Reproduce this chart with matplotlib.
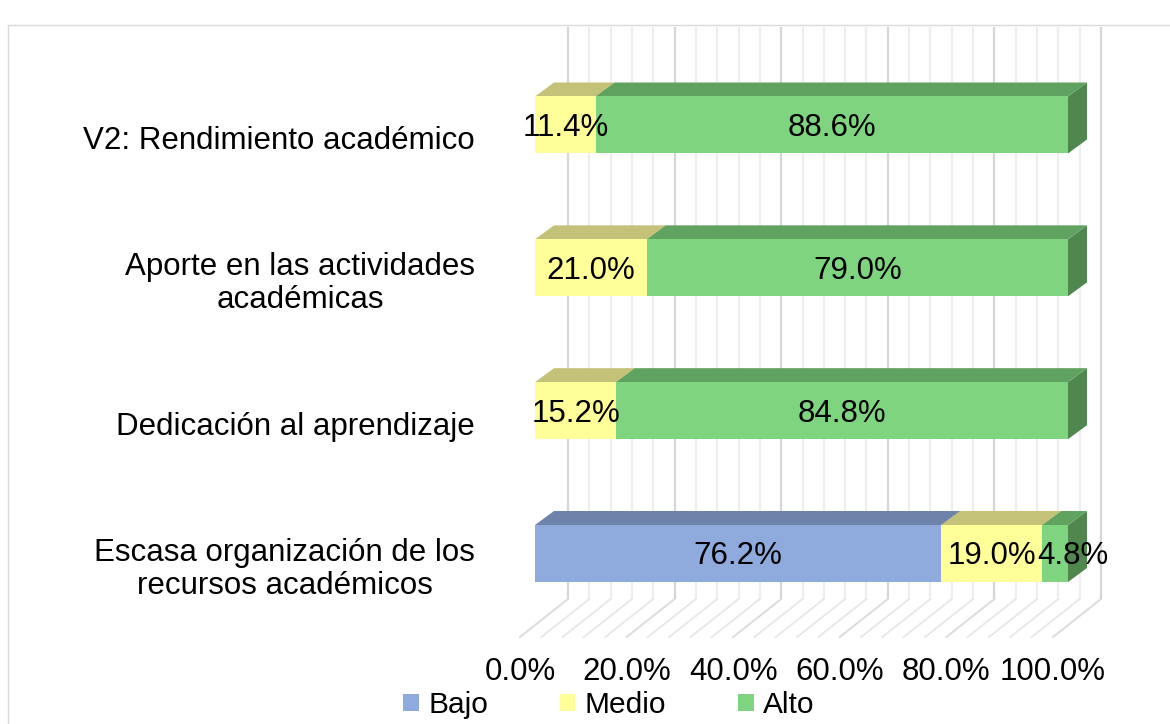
import matplotlib
matplotlib.use("Agg")
import matplotlib.pyplot as plt
from matplotlib.patches import Polygon, Rectangle, Patch

plt.rcParams['font.family'] = ['Liberation Sans', 'DejaVu Sans']

# data (bottom row first)
categories = ["Escasa organización de los\nrecursos académicos",
              "Dedicación al aprendizaje",
              "Aporte en las actividades\nacadémicas",
              "V2: Rendimiento académico"]
bajo = [76.2, 0.0, 0.0, 0.0]
medio = [19.0, 15.2, 21.0, 11.4]
alto = [4.8, 84.8, 79.0, 88.6]
series_names = ["Bajo", "Medio", "Alto"]
xticks = [0, 20, 40, 60, 80, 100]

# colours: front, top, side
front = ["#8FAADC", "#FFFF99", "#7FD47F"]
top = ["#6E83AA", "#C3C278", "#60A360"]
side = ["#5C6E90", "#A6A564", "#4F874F"]

W, H = 1170, 724
fig = plt.figure(figsize=(W / 100, H / 100), dpi=100)

# axes placed so that the bar front plane matches the picture
x0_px, x1_px = 535, 1068
yc_top, yc_bot = 125, 553.5
step = (yc_bot - yc_top) / 3
ax = fig.add_axes([x0_px / W, 1 - (yc_bot + step / 2) / H,
                   (x1_px - x0_px) / W, 4 * step / H])
ax.set_xlim(0, 100)
ax.set_ylim(-0.5, 3.5)
ax.axis("off")

pxx = (x1_px - x0_px) / 100.0   # pixels per percent
pxy = step                      # pixels per category


def dx(p):
    return p / pxx


def dy(p):
    return p / pxy


bar_h = dy(57)
bdx, bdy = dx(19), dy(14)          # depth of a bar
wdx = dx(33)                        # back wall offset
wall_bottom = -0.5 + (yc_bot + step / 2 - 599) / pxy
wall_top = -0.5 + (yc_bot + step / 2 - 27) / pxy
floor_front = -0.5 + (yc_bot + step / 2 - 637) / pxy
fdx = dx(-15)
tdy = dy(3)   # small nudge down for text

# back wall and floor grid
for v in range(0, 101, 4):
    major = v % 20 == 0
    c = "#D6D6D6" if major else "#EEEEEE"
    ax.plot([v + wdx, v + wdx], [wall_bottom, wall_top], color=c, lw=1.6,
            zorder=1, clip_on=False, solid_capstyle="butt")
    ax.plot([v + wdx, v + fdx], [wall_bottom, floor_front],
            color="#DCDCDC" if major else "#E8E8E8", lw=1.4,
            zorder=1, clip_on=False)

ypos = list(range(len(categories)))
lefts = [0.0] * len(categories)
for k, vals in enumerate([bajo, medio, alto]):
    bars = ax.barh(ypos, vals, left=lefts, height=bar_h, color=front[k],
                   zorder=3, label=series_names[k])
    for r, v in zip(bars.patches, vals):
        if v <= 0:
            continue
        x, y, w, h = r.get_x(), r.get_y(), r.get_width(), r.get_height()
        yt = y + h
        ax.add_patch(Polygon([(x, yt), (x + w, yt), (x + w + bdx, yt + bdy),
                              (x + bdx, yt + bdy)], closed=True,
                             facecolor=top[k], edgecolor="none", zorder=2.5,
                             clip_on=False))
        ax.add_patch(Polygon([(x + w, y), (x + w, yt), (x + w + bdx, yt + bdy),
                              (x + w + bdx, y + bdy)], closed=True,
                             facecolor=side[k], edgecolor="none", zorder=2,
                             clip_on=False))
        # narrow segments get their label pushed to the right, like Excel did
        shift = dx(18) if w < 8 else 0
        ax.text(x + w / 2 + shift, y + h / 2 - tdy, f"{v:.1f}%", ha="center",
                va="center", fontsize=22.5, color="black", zorder=5,
                clip_on=False)
    lefts = [a + b for a, b in zip(lefts, vals)]

# category labels
for i, name in enumerate(categories):
    ax.text(dx(-60), i - dy(16), name, ha="right", va="center",
            multialignment="center", fontsize=22.5, color="black",
            linespacing=1.12)

# value axis labels along the floor front edge
ylab = -0.5 + (yc_bot + step / 2 - 672) / pxy
for t in xticks:
    ax.text(t + fdx, ylab, f"{t:.1f}%", ha="center", va="center",
            fontsize=22.5, color="black", clip_on=False)

handles = [Patch(facecolor=c, edgecolor="none") for c in front]
fig.legend(handles, series_names, loc="center",
           bbox_to_anchor=(609 / W, 1 - 705 / H), ncol=3, frameon=False,
           fontsize=21.5, handlelength=0.52, handleheight=0.52,
           handletextpad=0.32, columnspacing=2.4, borderpad=0)

# chart area border
fig.add_artist(Rectangle((8 / W, -0.1), 1.2, 1 - 25 / H + 0.1,
                         transform=fig.transFigure, fill=False,
                         edgecolor="#D9D9D9", lw=1.0))

plt.savefig("out.png", dpi=100)
